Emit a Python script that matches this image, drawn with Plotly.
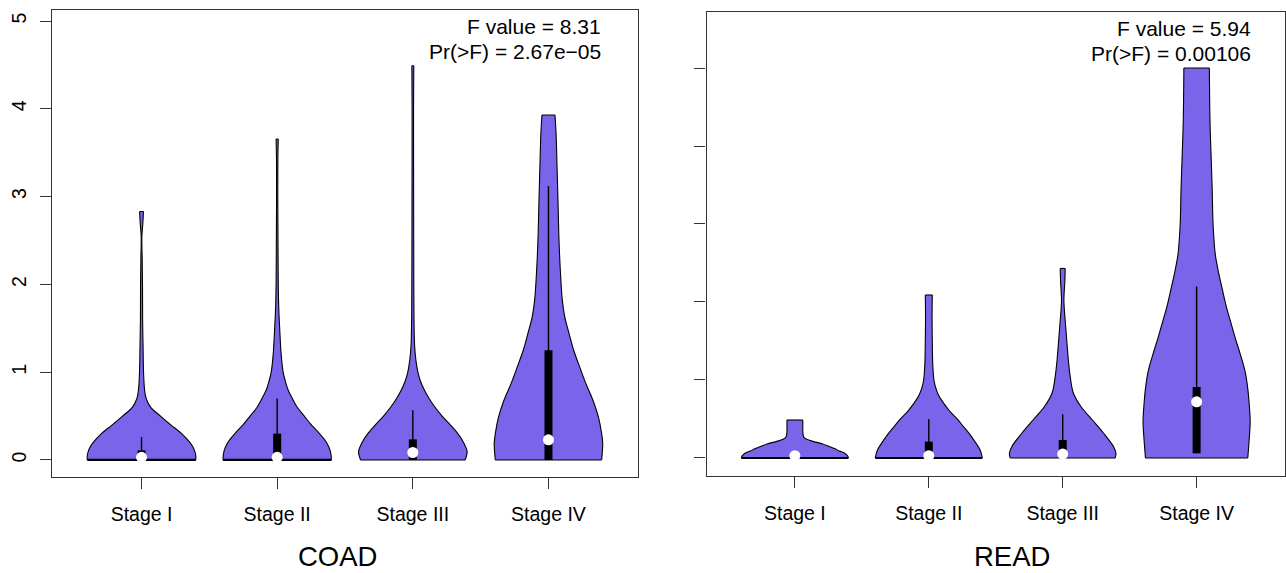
import plotly.graph_objects as go

# ---------------------------------------------------------------------------
# Data
# ---------------------------------------------------------------------------
STAGES = ["Stage I", "Stage II", "Stage III", "Stage IV"]
Y_TICKS = [0, 1, 2, 3, 4, 5]

# Violin outlines: expression level (y) and relative kernel density (d, 1 = widest)
COAD_I_Y = [0, 0.05, 0.1, 0.15, 0.2, 0.3, 0.4, 0.5, 0.6, 0.7, 0.8, 1.0, 1.3, 1.6, 2.0, 2.3, 2.54, 2.7, 2.83]
COAD_I_D = [1.0, 1.0, 0.98, 0.945, 0.89, 0.74, 0.54, 0.35, 0.17, 0.085, 0.056, 0.037, 0.028, 0.02, 0.018, 0.012, 0.006, 0.025, 0.035]

COAD_II_Y = [0, 0.1, 0.2, 0.3, 0.4, 0.5, 0.6, 0.7, 0.8, 0.9, 1.0, 1.2, 1.5, 1.75, 2.0, 2.5, 3.0, 3.4, 3.656]
COAD_II_D = [1.0, 0.98, 0.91, 0.78, 0.63, 0.5, 0.37, 0.28, 0.2, 0.15, 0.11, 0.074, 0.046, 0.028, 0.02, 0.015, 0.011, 0.012, 0.02]

COAD_III_Y = [0, 0.05, 0.1, 0.2, 0.3, 0.4, 0.5, 0.6, 0.7, 0.8, 0.9, 1.0, 1.14, 1.3, 1.6, 2.0, 3.0, 4.0, 4.49]
COAD_III_D = [0.963, 0.99, 1.0, 0.935, 0.83, 0.69, 0.54, 0.41, 0.3, 0.21, 0.14, 0.093, 0.056, 0.033, 0.022, 0.018, 0.015, 0.013, 0.018]

COAD_IV_Y = [0, 0.11, 0.19, 0.3, 0.49, 0.68, 0.87, 1.06, 1.25, 1.44, 1.63, 1.82, 2.2, 2.58, 2.96, 3.34, 3.72, 3.93]
COAD_IV_D = [0.98, 0.995, 1.0, 0.98, 0.92, 0.82, 0.69, 0.575, 0.465, 0.38, 0.3, 0.255, 0.215, 0.19, 0.175, 0.158, 0.14, 0.12]

READ_I_Y = [0, 0.03, 0.06, 0.09, 0.12, 0.15, 0.18, 0.21, 0.24, 0.27, 0.32, 0.4, 0.487]
READ_I_D = [1.0, 0.98, 0.93, 0.83, 0.74, 0.63, 0.52, 0.35, 0.22, 0.165, 0.15, 0.148, 0.148]

READ_II_Y = [0, 0.1, 0.2, 0.3, 0.4, 0.5, 0.6, 0.7, 0.8, 0.9, 1.0, 1.2, 1.5, 1.8, 2.09]
READ_II_D = [1.0, 0.96, 0.87, 0.77, 0.65, 0.53, 0.39, 0.28, 0.185, 0.13, 0.096, 0.074, 0.065, 0.061, 0.065]

READ_III_Y = [0, 0.06, 0.145, 0.32, 0.49, 0.66, 0.83, 1.05, 1.26, 1.47, 1.68, 1.9, 2.03, 2.15, 2.28, 2.43]
READ_III_D = [0.98, 0.995, 0.95, 0.76, 0.55, 0.34, 0.2, 0.139, 0.105, 0.08, 0.056, 0.031, 0.022, 0.03, 0.041, 0.046]

READ_IV_Y = [0, 0.04, 0.25, 0.465, 0.68, 0.89, 1.11, 1.32, 1.53, 1.75, 1.96, 2.18, 2.39, 2.6, 2.82, 3.03, 3.46, 3.88, 4.31, 5.0]
READ_IV_D = [0.955, 0.96, 0.983, 1.0, 0.983, 0.955, 0.905, 0.82, 0.725, 0.633, 0.547, 0.474, 0.406, 0.35, 0.322, 0.305, 0.29, 0.27, 0.25, 0.238]

# Box summaries per stage
COAD_Q1 = [0, 0, 0, 0]
COAD_MED = [0.03, 0.03, 0.085, 0.23]
COAD_Q3 = [0.11, 0.30, 0.235, 1.25]
COAD_WHISK = [0.26, 0.70, 0.565, 3.12]

READ_Q1 = [0, 0, 0, 0.06]
READ_MED = [0.03, 0.03, 0.05, 0.72]
READ_Q3 = [0.01, 0.21, 0.23, 0.91]
READ_WHISK = [0.02, 0.50, 0.56, 2.2]

# ANOVA results
COAD_STATS = ["F value = 8.31", "Pr(>F) = 2.67e\u221205"]
READ_STATS = ["F value = 5.94", "Pr(>F) = 0.00106"]

# ---------------------------------------------------------------------------
# Styling
# ---------------------------------------------------------------------------
FONT = "Liberation Sans, Arial, Helvetica, sans-serif"
VIOLIN_FILL = "#7964EA"
HALF_WIDTH = 0.4            # widest half-width of a violin, in category units
FRAME = "#333333"
BASE_EDGE_WIDTH = [2.2, 2.2, 1.1, 1.1]   # heavier base line where many zeros pile up

fig = go.Figure()


def add_panel(xref, yref, outlines, q1, med, q3, whisk):
    for i, (ys, ds) in enumerate(outlines):
        pos = i + 1
        left_x = [pos - d * HALF_WIDTH for d in ds]
        right_x = [pos + d * HALF_WIDTH for d in ds]
        side = dict(color="black", width=1.1, shape="spline", smoothing=1.0)
        # left flank
        fig.add_trace(go.Scatter(
            x=left_x, y=ys, xaxis=xref, yaxis=yref, mode="lines", line=side,
            hoverinfo="skip", showlegend=False))
        # right flank, filled across to the left flank
        fig.add_trace(go.Scatter(
            x=right_x, y=ys, xaxis=xref, yaxis=yref, mode="lines", line=side,
            fill="tonextx", fillcolor=VIOLIN_FILL,
            hoverinfo="skip", showlegend=False))
        # flat top and base of the violin
        fig.add_trace(go.Scatter(
            x=[left_x[-1], right_x[-1]], y=[ys[-1], ys[-1]], xaxis=xref, yaxis=yref,
            mode="lines", line=dict(color="black", width=1.1),
            hoverinfo="skip", showlegend=False))
        fig.add_trace(go.Scatter(
            x=[left_x[0], right_x[0]], y=[ys[0], ys[0]], xaxis=xref, yaxis=yref,
            mode="lines", line=dict(color="black", width=BASE_EDGE_WIDTH[i]),
            hoverinfo="skip", showlegend=False))
        # whisker
        fig.add_trace(go.Scatter(
            x=[pos, pos], y=[q1[i], whisk[i]], xaxis=xref, yaxis=yref,
            mode="lines", line=dict(color="black", width=1.4),
            hoverinfo="skip", showlegend=False))
        # interquartile box
        fig.add_trace(go.Scatter(
            x=[pos, pos], y=[q1[i], q3[i]], xaxis=xref, yaxis=yref,
            mode="lines", line=dict(color="black", width=8),
            hoverinfo="skip", showlegend=False))
        # median
        fig.add_trace(go.Scatter(
            x=[pos], y=[med[i]], xaxis=xref, yaxis=yref, mode="markers",
            marker=dict(color="white", size=11, line=dict(width=0)),
            hoverinfo="skip", showlegend=False))


add_panel("x", "y",
          [(COAD_I_Y, COAD_I_D), (COAD_II_Y, COAD_II_D),
           (COAD_III_Y, COAD_III_D), (COAD_IV_Y, COAD_IV_D)],
          COAD_Q1, COAD_MED, COAD_Q3, COAD_WHISK)
add_panel("x2", "y2",
          [(READ_I_Y, READ_I_D), (READ_II_Y, READ_II_D),
           (READ_III_Y, READ_III_D), (READ_IV_Y, READ_IV_D)],
          READ_Q1, READ_MED, READ_Q3, READ_WHISK)

W, H = 1286, 573

axis_common = dict(
    showline=True, mirror=True, linecolor=FRAME, linewidth=1.4,
    ticks="outside", tickcolor=FRAME, tickwidth=1.3,
    showgrid=False, zeroline=False, fixedrange=True,
    tickfont=dict(family=FONT, size=19.5, color="black"),
)

fig.update_layout(
    width=W, height=H,
    margin=dict(l=0, r=0, t=0, b=0),
    paper_bgcolor="white", plot_bgcolor="white",
    showlegend=False,
    xaxis=dict(axis_common, domain=[52 / W, 638 / W], range=[0.34, 4.66],
               tickvals=[1, 2, 3, 4], ticktext=STAGES, ticklen=11,
               ticklabelstandoff=8, anchor="y"),
    yaxis=dict(axis_common, domain=[1 - 477 / H, 1 - 9.5 / H],
               range=[-0.194, 5.131], tickvals=Y_TICKS, tickangle=-90,
               ticklen=11, ticklabelstandoff=6, anchor="x"),
    xaxis2=dict(axis_common, domain=[706.5 / W, 1285 / W], range=[0.34, 4.66],
                tickvals=[1, 2, 3, 4], ticktext=STAGES, ticklen=11,
                ticklabelstandoff=8, anchor="y2"),
    yaxis2=dict(axis_common, domain=[1 - 476 / H, 1 - 12 / H],
                range=[-0.231, 5.718], tickvals=Y_TICKS, ticklen=11,
                showticklabels=False, anchor="x2"),
)

annotations = []
for text, yc in zip(COAD_STATS, [26, 51]):
    annotations.append(dict(text=text, xref="paper", yref="paper",
                            x=603 / W, y=1 - yc / H, xanchor="right", yanchor="middle",
                            showarrow=False, font=dict(family=FONT, size=21, color="black")))
for text, yc in zip(READ_STATS, [29, 54]):
    annotations.append(dict(text=text, xref="paper", yref="paper",
                            x=1253 / W, y=1 - yc / H, xanchor="right", yanchor="middle",
                            showarrow=False, font=dict(family=FONT, size=21, color="black")))
for text, xc in [("COAD", 337), ("READ", 1012)]:
    annotations.append(dict(text=text, xref="paper", yref="paper",
                            x=xc / W, y=1 - 556 / H, xanchor="center", yanchor="middle",
                            showarrow=False, font=dict(family=FONT, size=27.5, color="black")))
fig.update_layout(annotations=annotations)

fig.write_html("out.html")
